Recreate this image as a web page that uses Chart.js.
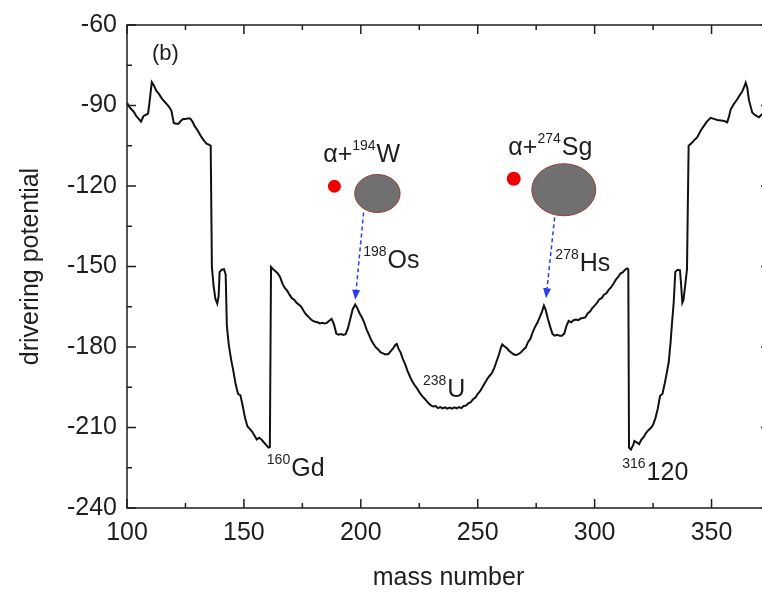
<!DOCTYPE html>
<html lang="en">
<head>
<meta charset="UTF-8">
<title>Drivering potential vs mass number</title>
<script src="https://cdn.jsdelivr.net/npm/chart.js"></script>
<style>
  html, body { margin: 0; padding: 0; background: #fff; overflow: hidden; }
  #wrap { position: relative; width: 771px; height: 593px; }
</style>
</head>
<body>
<div id="wrap"><canvas id="dp" width="771" height="593"></canvas></div>
<script>
  // mass number of the fragment and its drivering potential
  const massNumbers = [
    100, 101, 102, 103, 104, 105, 106, 107, 108, 109, 109.6, 110.6, 111.5, 112.5, 113.5, 115, 116, 117, 118, 119,
    120, 121, 122, 123, 124, 125, 126, 127, 128, 129, 130, 131, 132, 133, 134, 135, 135.8, 136.3, 137, 137.8,
    138.6, 139.2, 139.6, 140.5, 141.5, 142.2, 142.7, 143.5, 144.5, 145.5, 146.5, 147.5, 148.5, 149.5, 150.5, 151.5, 152.5, 153.5, 154.5, 155.5,
    156.5, 157.5, 158.5, 159.5, 160.5, 161.1, 161.6, 162.5, 163.5, 164.5, 165.5, 166.5, 167.5, 168.5, 169.5, 170.5, 171.5, 172.5, 173.5, 174.5,
    175.5, 176.5, 177.5, 178.5, 179.5, 180.5, 181.5, 182.5, 183.5, 184.5, 185.5, 186.5, 187.5, 188.5, 189.5, 190.5, 191.5, 192.5, 193.5, 194.5,
    195.5, 196.5, 197.6, 198.5, 199.5, 200.5, 201.5, 202.5, 203.5, 204.5, 205.5, 206.5, 207.5, 208.5, 209.5, 210.5, 211.8, 212.8, 213.8, 214.8,
    215.4, 216.2, 217, 218, 219, 220, 221, 222, 223, 224, 225, 226, 227, 228, 229, 230, 231, 232, 233, 234,
    235, 236, 237, 238, 239, 240, 241, 242, 243, 244, 245, 246, 247, 248, 249, 250, 251, 252, 253, 254,
    255, 256, 257, 258, 259, 260, 260.5, 261.5, 262.5, 263.5, 264.5, 265.5, 266.5, 267.5, 268.5, 269.5, 270.5, 271.5, 272.5, 273.5,
    274.5, 275.5, 276.5, 277.5, 278.3, 279, 280, 281, 282, 283, 284, 285, 286, 287, 288, 288.9, 290, 291, 292, 293,
    294, 295, 296, 297, 298, 299, 300, 301, 302, 303, 304, 305, 306, 307, 308, 309, 310, 311, 312, 313,
    313.9, 314.4, 314.7, 315.5, 316.5, 317, 318, 319, 320, 321, 322, 323, 324, 325, 326, 327, 328, 329, 330, 331,
    331.7, 332.5, 333.1, 333.8, 334.5, 335.5, 336.5, 337, 337.5, 338, 338.6, 339.5, 340.2, 341.5, 342.5, 343.9, 345, 346, 346.8, 348,
    349.6, 351, 352.5, 354, 355.5, 356.7, 357.5, 358.2, 359.5, 361, 362, 363, 364, 364.6, 365.3, 366, 367.4, 368.5, 370.3, 371.7, 373
  ];
  const potential = [
    -89, -90.5, -91.5, -92.5, -94, -95, -96, -94, -93.5, -93, -89, -81.3, -82.5, -84.5, -85.5, -87.5, -88.5, -89.5, -90.5, -92,
    -96.5, -96.8, -96.8, -95.8, -95, -95, -94.8, -94.8, -96, -97.8, -99, -100.5, -102, -103.2, -104.2, -104.6, -105, -150, -157, -162,
    -163.8, -161, -152, -151.2, -151, -153, -172, -179, -184.5, -189, -194, -197.5, -198, -202, -206.5, -209.5, -210.5, -211.5, -213, -214.5,
    -213.8, -214.5, -215.5, -216.5, -217.5, -217.3, -150.2, -151, -151.8, -152.6, -154, -156.5, -158, -159, -160.5, -161.8, -162.4, -163.5, -164.2, -165,
    -166.5, -167.8, -168.6, -169.6, -170.3, -170.6, -170.8, -171.2, -171, -171.2, -171, -170.2, -169.5, -171.5, -175, -175.4, -175.2, -175.5, -175.2, -173,
    -169.5, -166, -164.2, -165.5, -167.5, -169, -171, -173.5, -175.5, -177.5, -179, -180.2, -181, -182, -182.4, -182.8, -182.6, -181.5, -180.5, -179.2,
    -178.9, -180.8, -182, -184.5, -186.5, -189, -191, -192.8, -194.2, -195.4, -196.8, -198, -199, -200, -201, -201.8, -202.2, -202, -202.8, -202.4,
    -202.9, -202.5, -203, -202.6, -203, -202.5, -202.9, -202.4, -202.8, -202, -201.8, -201, -200.6, -199.5, -198.8, -197.5, -196.5, -195, -193.5, -192,
    -190.8, -189.8, -188, -185.5, -183, -180, -179, -179.8, -180.5, -181.5, -182.2, -182.8, -183, -182.6, -182, -181, -180.2, -178.2, -177, -174.5,
    -172.5, -171, -169, -166.8, -164.6, -166, -169.5, -172.5, -175.2, -175.8, -175.5, -175.8, -175.8, -175, -172, -170.3, -170.8, -170, -169.8, -170,
    -169.4, -169.2, -169, -167.5, -166.8, -165.5, -164.6, -163.6, -162.2, -161.8, -160.5, -160, -158.7, -157.8, -156.5, -155, -154, -152.6, -152.2, -151.2,
    -150.7, -151, -217.5, -218.2, -216.5, -215, -215.5, -216.2, -214.5, -213.5, -212, -211, -210.2, -209, -206.5, -203, -198.2, -197.5, -193.5, -189,
    -185.6, -178, -171, -163.6, -152, -151.2, -151.4, -157, -163.5, -162.5, -158, -151, -105, -104, -103, -101.8, -100, -98.5, -97.5, -96,
    -94.6, -95, -95.4, -95.6, -95.8, -96.3, -94, -91.4, -89.5, -87.7, -86.2, -85, -83, -81.5, -83.5, -88, -92.6, -93.5, -94.4, -93.2, -94
  ];

  const xTicks = [100, 150, 200, 250, 300, 350];
  const xMinor = [125, 175, 225, 275, 325];
  const yTicks = [-240, -210, -180, -150, -120, -90, -60];
  const yMinor = [-225, -195, -165, -135, -105, -75];

  const FONT = '"Liberation Sans", Arial, sans-serif';
  const INK = '#1e1e1e';

  // text labels in data coordinates: [text, isSuperscript]
  const notes = [
    { x: 110.7, y: -72.9, size: 22, parts: [['(b)', false]] },
    { x: 183.9, y: -111.1, size: 25, parts: [['α+', false], ['194', true], ['W', false]] },
    { x: 263.1, y: -108.5, size: 25, parts: [['α+', false], ['274', true], ['Sg', false]] },
    { x: 201.0, y: -150.7, size: 25, parts: [['198', true], ['Os', false]] },
    { x: 283.2, y: -151.5, size: 25, parts: [['278', true], ['Hs', false]] },
    { x: 226.6, y: -198.5, size: 25, parts: [['238', true], ['U', false]] },
    { x: 159.8, y: -227.9, size: 25, parts: [['160', true], ['Gd', false]] },
    { x: 311.8, y: -229.7, size: 25, parts: [['316', true], ['120', false]] }
  ];
  // alpha particle dots and heavy fragments
  const dots = [{ x: 188.7, y: -120.1, r: 6.5 }, { x: 265.4, y: -117.3, r: 7 }];
  const blobs = [{ x: 207.1, y: -122.8, rx: 22.7, ry: 19 }, { x: 286.8, y: -121.4, rx: 32, ry: 26 }];
  const arrows = [
    { x0: 201.2, y0: -129.9, x1: 197.6, y1: -162.4 },
    { x0: 282.9, y0: -131.7, x1: 279.2, y1: -161.8 }
  ];

  const framePlugin = {
    id: 'frame',
    afterDraw(chart) {
      const { ctx, chartArea: a, scales: { x, y } } = chart;
      ctx.save();
      ctx.strokeStyle = INK;
      ctx.lineWidth = 1.5;
      ctx.strokeRect(a.left, a.top, a.right - a.left, a.bottom - a.top);
      ctx.beginPath();
      const tick = (vals, len) => {
        vals.forEach(v => {
          const px = x.getPixelForValue(v);
          ctx.moveTo(px, a.bottom); ctx.lineTo(px, a.bottom - len);
          ctx.moveTo(px, a.top); ctx.lineTo(px, a.top + len);
        });
      };
      const tickY = (vals, len) => {
        vals.forEach(v => {
          const py = y.getPixelForValue(v);
          ctx.moveTo(a.left, py); ctx.lineTo(a.left + len, py);
          ctx.moveTo(a.right, py); ctx.lineTo(a.right - len, py);
        });
      };
      tick(xTicks, 9); tick(xMinor, 5);
      tickY(yTicks, 9); tickY(yMinor, 5);
      ctx.stroke();

      // fragments
      blobs.forEach(b => {
        ctx.beginPath();
        ctx.ellipse(x.getPixelForValue(b.x), y.getPixelForValue(b.y), b.rx, b.ry, 0, 0, Math.PI * 2);
        ctx.fillStyle = '#707070';
        ctx.fill();
        ctx.lineWidth = 1;
        ctx.strokeStyle = '#9a3a3a';
        ctx.stroke();
      });
      dots.forEach(d => {
        ctx.beginPath();
        ctx.arc(x.getPixelForValue(d.x), y.getPixelForValue(d.y), d.r, 0, Math.PI * 2);
        ctx.fillStyle = '#ee0000';
        ctx.fill();
      });

      // dashed arrows
      arrows.forEach(ar => {
        const x0 = x.getPixelForValue(ar.x0), y0 = y.getPixelForValue(ar.y0);
        const x1 = x.getPixelForValue(ar.x1), y1 = y.getPixelForValue(ar.y1);
        const ang = Math.atan2(y1 - y0, x1 - x0);
        const hl = 10, hw = 4;
        const bx = x1 - hl * Math.cos(ang), by = y1 - hl * Math.sin(ang);
        ctx.beginPath();
        ctx.setLineDash([4, 3]);
        ctx.strokeStyle = '#2b3cf0';
        ctx.lineWidth = 1.5;
        ctx.moveTo(x0, y0); ctx.lineTo(bx, by);
        ctx.stroke();
        ctx.setLineDash([]);
        ctx.beginPath();
        ctx.moveTo(x1, y1);
        ctx.lineTo(bx + hw * Math.sin(ang), by - hw * Math.cos(ang));
        ctx.lineTo(bx - hw * Math.sin(ang), by + hw * Math.cos(ang));
        ctx.closePath();
        ctx.fillStyle = '#2b3cf0';
        ctx.fill();
      });

      // labels with superscripts
      ctx.fillStyle = INK;
      ctx.textBaseline = 'alphabetic';
      ctx.textAlign = 'left';
      notes.forEach(n => {
        let cx = x.getPixelForValue(n.x);
        const by = y.getPixelForValue(n.y);
        n.parts.forEach(([t, sup]) => {
          const fs = sup ? Math.round(n.size * 0.56) : n.size;
          ctx.font = fs + 'px ' + FONT;
          ctx.fillText(t, cx, sup ? by - n.size * 0.48 : by);
          cx += ctx.measureText(t).width + (sup ? 1 : 0);
        });
      });
      ctx.restore();
    }
  };

  new Chart(document.getElementById('dp'), {
    type: 'line',
    data: {
      datasets: [{
        data: massNumbers.map((m, i) => ({ x: m, y: potential[i] })),
        borderColor: '#111',
        borderWidth: 2,
        pointRadius: 0,
        tension: 0,
        fill: false
      }]
    },
    options: {
      responsive: false,
      animation: false,
      devicePixelRatio: 1,
      layout: { padding: { top: 18, right: 1, left: 0, bottom: 0 } },
      plugins: { legend: { display: false }, tooltip: { enabled: false } },
      scales: {
        x: {
          type: 'linear',
          min: 100,
          max: 375,
          afterBuildTicks: s => { s.ticks = xTicks.map(v => ({ value: v })); },
          afterFit: s => { s.height = 85; },
          grid: { display: false, drawTicks: false },
          border: { display: false },
          ticks: { font: { family: FONT, size: 25 }, color: INK, padding: 10, maxRotation: 0 },
          title: { display: true, text: 'mass number', color: INK, font: { family: FONT, size: 25 }, padding: { top: 0, bottom: 0 } }
        },
        y: {
          type: 'linear',
          min: -240,
          max: -60,
          afterBuildTicks: s => { s.ticks = yTicks.map(v => ({ value: v })); },
          afterFit: s => { s.width = 127; },
          grid: { display: false, drawTicks: false },
          border: { display: false },
          ticks: { font: { family: FONT, size: 25 }, color: INK, padding: 10 },
          title: { display: true, text: 'drivering potential', color: INK, font: { family: FONT, size: 25 }, padding: { top: 16, bottom: 0 } }
        }
      }
    },
    plugins: [framePlugin]
  });
</script>
</body>
</html>
